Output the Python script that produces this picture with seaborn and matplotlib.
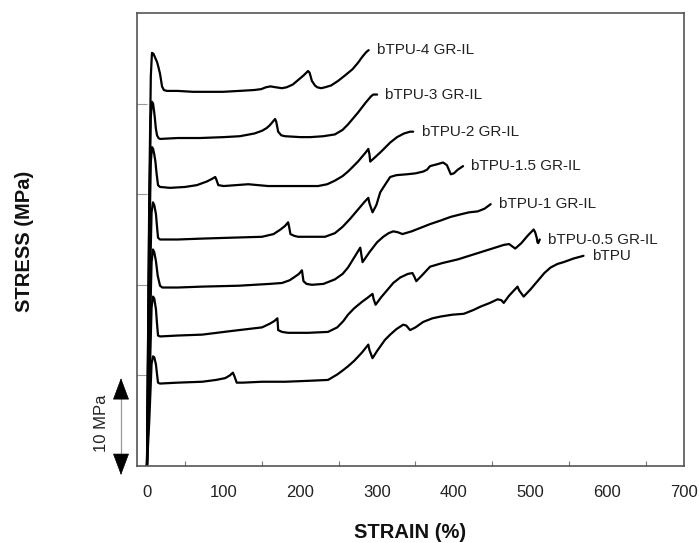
import matplotlib
matplotlib.use("Agg")
import matplotlib.pyplot as plt
import seaborn as sns
import pandas as pd
from matplotlib.lines import Line2D

# ---------------- data ----------------
samples = ["bTPU-4 GR-IL", "bTPU-3 GR-IL", "bTPU-2 GR-IL", "bTPU-1.5 GR-IL",
           "bTPU-1 GR-IL", "bTPU-0.5 GR-IL", "bTPU"]

strain_4 = [0, 3, 5, 6.5, 8.5, 11, 13.1, 15, 17, 18.5, 19.6, 22, 26, 40, 60, 80, 99, 120,
            140, 149, 155, 161, 168, 176, 182, 190, 197, 204, 210, 212, 215, 219, 222, 227,
            232, 240, 249, 258, 268, 275, 281, 286, 289]
stress_4 = [0, 30, 43, 45.6, 45.5, 45.0, 44.6, 44.0, 43.3, 42.5, 41.9, 41.5, 41.4, 41.4,
            41.3, 41.3, 41.3, 41.4, 41.5, 41.6, 41.8, 41.9, 41.8, 41.7, 41.8, 42.1, 42.6,
            43.1, 43.6, 43.4, 42.5, 42.0, 41.8, 41.7, 41.8, 42.0, 42.5, 43.1, 43.8, 44.5,
            45.2, 45.7, 45.9]

strain_3 = [0, 3, 5, 6.5, 8, 9.5, 10.4, 11.5, 13.1, 15, 17, 40, 69, 100, 121, 140, 150, 156,
            160, 164, 167, 168.5, 171, 175, 180, 200, 213, 230, 245, 255, 262, 268, 275,
            285, 292, 295, 300]
stress_3 = [0, 28, 38.5, 40.2, 40.0, 39.0, 38.3, 37.3, 36.5, 36.2, 36.1, 36.2, 36.2, 36.3,
            36.4, 36.7, 37.0, 37.3, 37.6, 38.0, 38.3, 38.0, 36.9, 36.5, 36.4, 36.3, 36.3,
            36.4, 36.6, 37.1, 37.7, 38.3, 39.0, 40.1, 40.8, 41.0, 41.0]

strain_2 = [0, 3, 5, 6.5, 8, 9.5, 11, 12.5, 14.4, 17, 30, 49.6, 65, 78, 85, 89, 90.5, 93,
            100, 132, 158, 190, 223, 235, 245, 255, 262, 268, 275, 281, 285, 288.5, 290,
            291, 295, 304, 310, 317, 326, 335, 343, 347]
stress_2 = [0, 24, 33.5, 35.2, 35.0, 34.4, 33.6, 32.3, 31.0, 30.8, 30.7, 30.8, 31.0, 31.4,
            31.7, 31.9, 31.6, 31.0, 30.9, 31.1, 30.9, 30.9, 30.9, 31.1, 31.5, 32.0, 32.5,
            33.0, 33.6, 34.2, 34.6, 35.0, 34.4, 33.6, 33.9, 34.6, 35.1, 35.7, 36.3, 36.7,
            36.9, 36.9]

strain_15 = [0, 3, 6, 7.8, 9.5, 11.7, 13, 14.4, 17, 40, 72, 110, 150, 165, 174, 180, 184,
             185.5, 187, 192, 197, 215, 232, 245, 255, 265, 275, 283, 288.5, 290, 294, 299,
             304, 310, 317, 325, 339, 350, 360, 365, 369, 378, 386, 391, 396, 400, 405, 412]
stress_15 = [0, 17, 28, 29.1, 28.8, 27.8, 26.5, 25.2, 25.0, 25.0, 25.1, 25.2, 25.3, 25.6,
             26.1, 26.5, 26.9, 26.3, 25.6, 25.4, 25.3, 25.3, 25.3, 25.7, 26.4, 27.3, 28.3,
             29.1, 29.6, 29.0, 28.0, 28.8, 30.2, 31.0, 31.9, 32.1, 32.2, 32.3, 32.5, 32.7,
             33.1, 33.3, 33.5, 33.2, 32.2, 32.3, 32.7, 33.1]

strain_1 = [0, 3, 6, 7.8, 9.5, 11.7, 14, 17, 20, 40, 72, 120, 160, 176, 186, 193, 198, 202,
            203, 204, 208, 215, 230, 245, 255, 262, 270, 278, 279.5, 281, 290, 300, 308,
            315, 321, 327, 333, 345, 357, 369, 383, 396, 410, 420, 431, 440, 448]
stress_1 = [0, 12, 22.5, 23.9, 23.6, 22.6, 21.0, 19.9, 19.7, 19.7, 19.8, 19.9, 20.1, 20.2,
            20.5, 20.9, 21.2, 21.6, 21.0, 20.4, 20.1, 20.0, 20.1, 20.6, 21.2, 21.9, 23.0,
            24.1, 23.3, 22.5, 23.6, 24.7, 25.3, 25.7, 25.9, 25.8, 25.6, 25.9, 26.3, 26.7,
            27.1, 27.5, 27.8, 28.0, 28.1, 28.4, 28.9]

strain_05 = [0, 3, 6, 7.8, 9.5, 11.7, 13, 14.4, 17, 40, 72, 110, 150, 160, 166, 170, 170.5,
             171, 176, 184, 210, 236, 248, 256, 262, 270, 280, 288, 294, 295.5, 298, 305,
             313, 321, 330, 340, 346, 348.5, 351, 358, 369, 385, 405, 420, 435, 450, 465,
             472, 480, 488, 496, 504, 506, 508, 509, 510, 512]
stress_05 = [0, 8, 17.5, 18.7, 18.5, 17.3, 15.8, 14.4, 14.3, 14.4, 14.5, 14.9, 15.3, 15.7,
             16.0, 16.3, 15.7, 15.0, 14.8, 14.7, 14.7, 14.8, 15.3, 16.0, 16.7, 17.4, 18.1,
             18.6, 19.0, 18.4, 17.8, 18.6, 19.4, 20.2, 20.8, 21.2, 21.3, 20.9, 20.4, 21.0,
             22.0, 22.4, 22.8, 23.2, 23.6, 24.0, 24.4, 24.5, 24.0, 24.6, 25.4, 26.1, 25.8,
             25.2, 24.7, 24.6, 25.0]

strain_0 = [0, 3, 6, 7.8, 9.5, 11.7, 13, 14.4, 17, 40, 72, 90, 102, 108, 112, 114, 117, 125,
            150, 180, 210, 236, 248, 256, 262, 270, 280, 288.5, 290, 294, 300, 310, 317,
            325, 334, 338, 343, 350, 360, 372, 383, 398, 413, 425, 435, 447, 457, 462, 465,
            472, 483, 485, 491, 500, 509, 518, 526, 535, 543, 556, 569]
stress_0 = [0, 5, 11.3, 12.1, 12.0, 11.2, 10.2, 9.2, 9.1, 9.2, 9.3, 9.5, 9.7, 10.0, 10.3,
            9.9, 9.2, 9.2, 9.3, 9.3, 9.4, 9.5, 10.1, 10.6, 11.0, 11.6, 12.5, 13.4, 12.8,
            11.9, 12.7, 13.9, 14.5, 15.1, 15.6, 15.5, 15.0, 15.3, 15.9, 16.3, 16.5, 16.7,
            16.8, 17.2, 17.6, 18.0, 18.4, 18.3, 18.0, 18.8, 19.8, 19.4, 18.7, 19.5, 20.4,
            21.3, 21.9, 22.3, 22.5, 22.9, 23.2]

x_ticks = [0, 100, 200, 300, 400, 500, 600, 700]
x_minor_ticks = [50, 150, 250, 350, 450, 550, 650]
y_ticks = [10, 20, 30, 40]
scale_bar_mpa = 10

curves = [(strain_4, stress_4), (strain_3, stress_3), (strain_2, stress_2),
          (strain_15, stress_15), (strain_1, stress_1), (strain_05, stress_05),
          (strain_0, stress_0)]

frames = []
for name, (sx, sy) in zip(samples, curves):
    frames.append(pd.DataFrame({"strain": sx, "stress": sy, "sample": name}))
df = pd.concat(frames, ignore_index=True)

# ---------------- plot ----------------
sns.set_theme(style="white")
plt.rcParams["font.family"] = ["Liberation Sans", "DejaVu Sans"]

fig = plt.figure(figsize=(6.99, 5.43), dpi=100)
ax = fig.add_axes([137 / 699, 77 / 543, 547 / 699, 453 / 543])

sns.lineplot(data=df, x="strain", y="stress", hue="sample", units="sample",
             estimator=None, sort=False, palette=["black"] * len(samples),
             linewidth=1.6, legend=False, ax=ax)
for ln in ax.get_lines():
    ln.set_solid_joinstyle("round")
    ln.set_solid_capstyle("round")

for name, (sx, sy) in zip(samples, curves):
    ax.annotate(name, xy=(sx[-1], sy[-1]), xytext=(6, 0), textcoords="offset points",
                ha="left", va="center", fontsize=11, color="#222222")

ax.set_xlim(-13, 700)
ax.set_ylim(0, 50)
ax.set_xticks(x_ticks)
ax.set_xticks(x_minor_ticks, minor=True)
ax.set_yticks(y_ticks)
ax.set_yticklabels([])
ax.tick_params(axis="x", which="major", direction="in", length=7, width=0.8,
               color="#777777", labelsize=12, pad=14, labelcolor="#222222")
ax.tick_params(axis="x", which="minor", direction="in", length=3.5, width=0.8,
               color="#777777", bottom=True)
ax.tick_params(axis="y", which="major", direction="in", length=7, width=0.8,
               color="#999999", left=True)
for sp in ax.spines.values():
    sp.set_visible(True)
    sp.set_color("#555555")
    sp.set_linewidth(1.2)

ax.set_xlabel("STRAIN (%)", fontsize=14.5, fontweight="bold", labelpad=16, color="#111111")
ax.set_ylabel("")
fig.text(25 / 699, 1 - 241 / 543, "STRESS (MPa)", rotation=90, ha="center", va="center",
         fontsize=14.5, fontweight="bold", color="#111111")

# scale bar (10 MPa)
xb = -16 / 547
y_top = scale_bar_mpa / 50 * 0.97
y_bot = -0.02
ax.add_line(Line2D([xb, xb], [y_bot + 0.02, y_top - 0.02], transform=ax.transAxes,
                   color="#999999", lw=0.9, clip_on=False))
for tip, tail in [(y_top, y_top - 0.04), (y_bot, y_bot + 0.04)]:
    ax.annotate("", xy=(xb, tip), xycoords="axes fraction", xytext=(xb, tail),
                textcoords="axes fraction",
                arrowprops=dict(arrowstyle="-|>,head_length=1.2,head_width=0.45",
                                color="black", lw=0.5, shrinkA=0, shrinkB=0),
                annotation_clip=False)
fig.text(102 / 699, 1 - 423 / 543, f"{scale_bar_mpa} MPa", rotation=90, ha="center",
         va="center", fontsize=12, color="#222222")

fig.savefig("out.png", dpi=100)
